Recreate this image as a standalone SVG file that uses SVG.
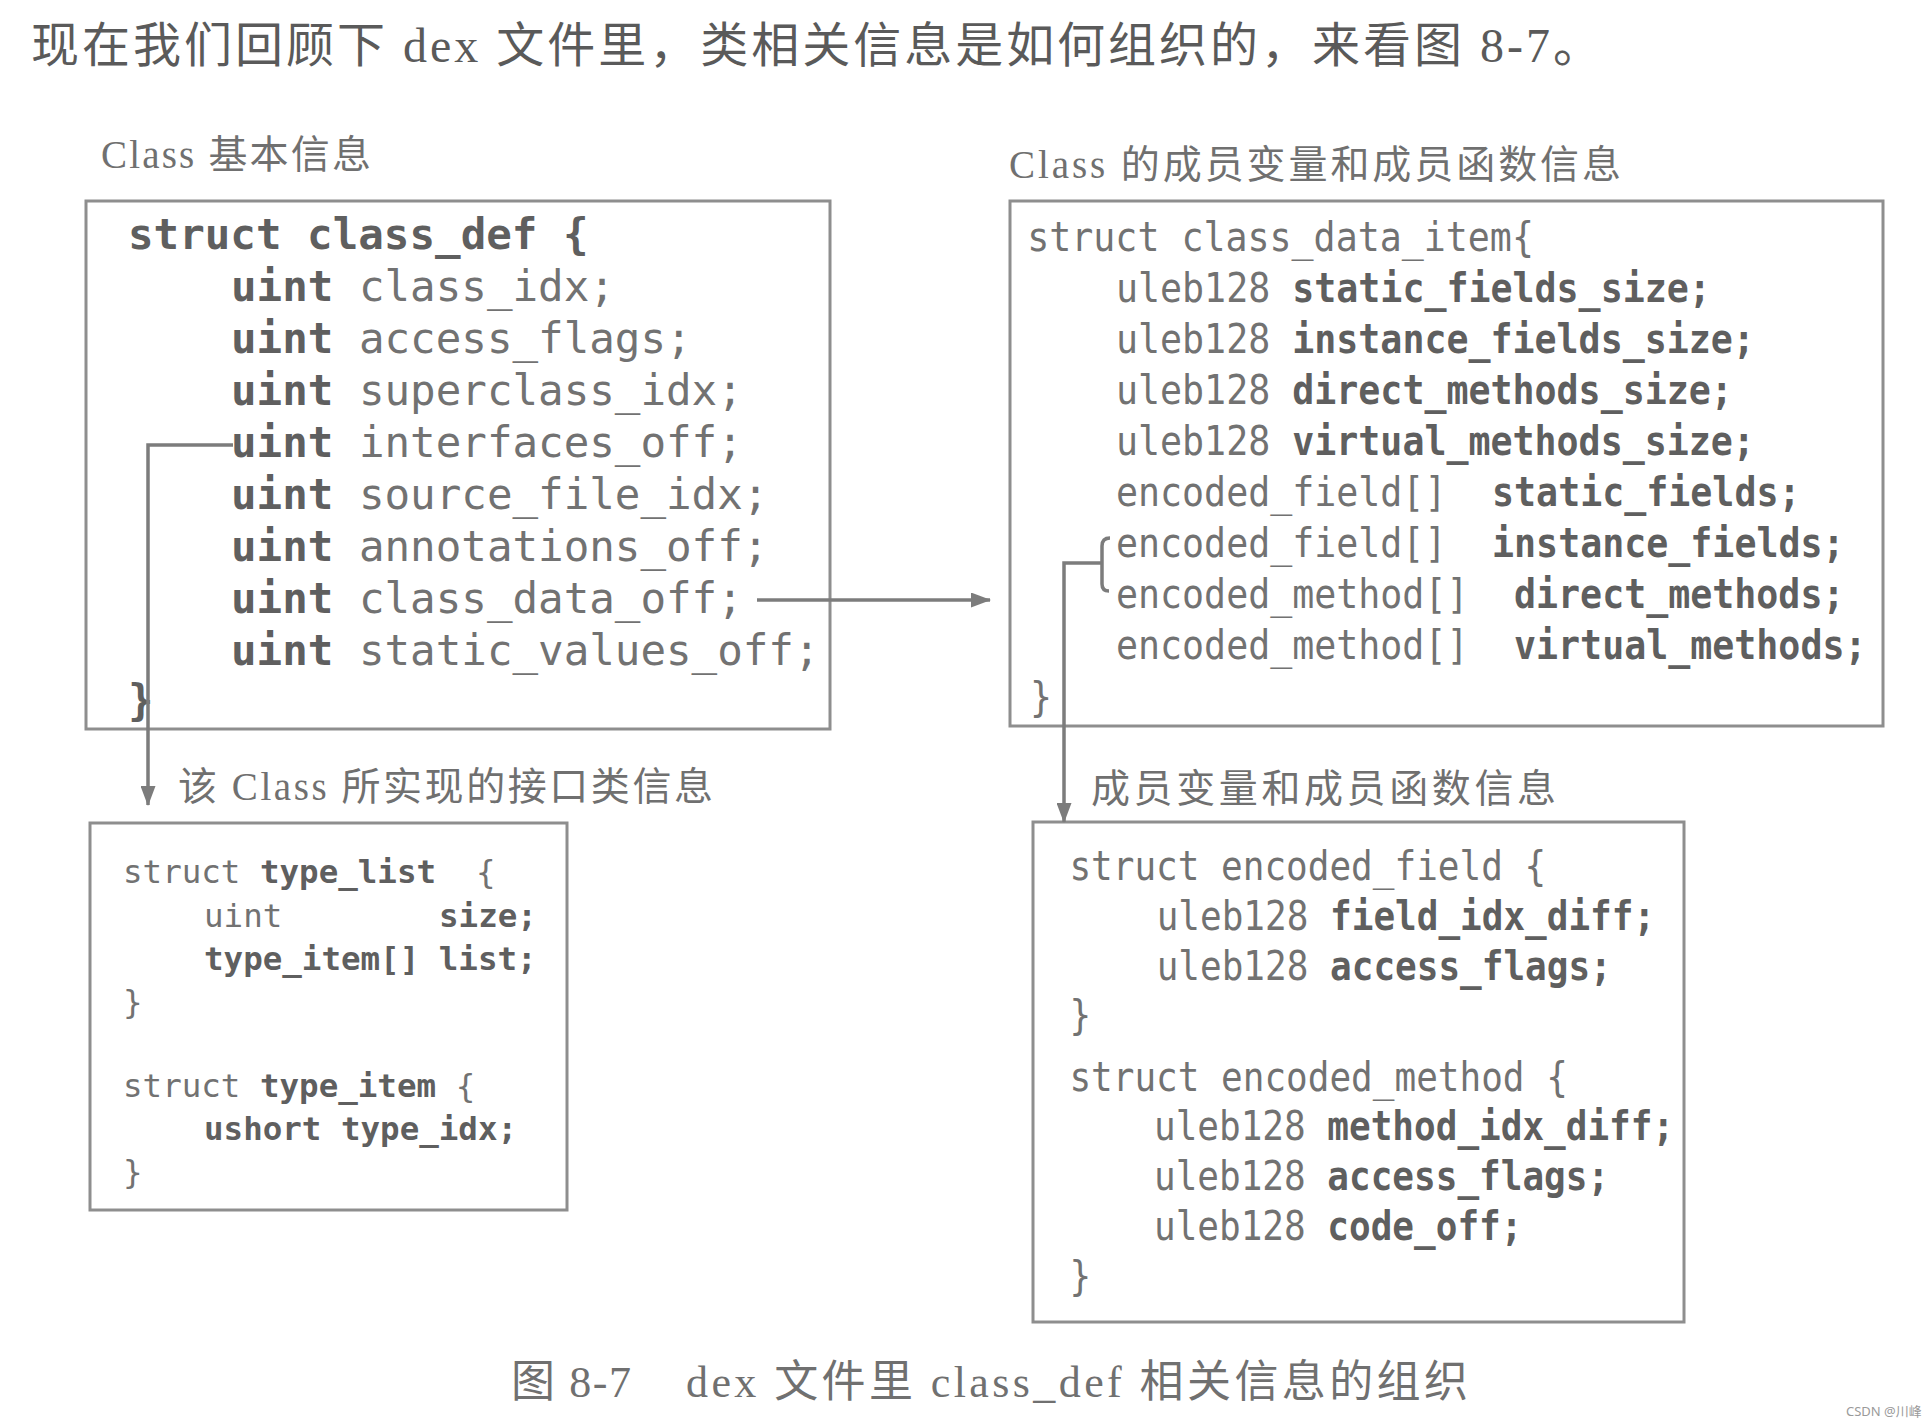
<svg xmlns="http://www.w3.org/2000/svg" width="1929" height="1427" viewBox="0 0 1929 1427">
<defs>
<style>
.box{fill:none;stroke:#8e8e8e;stroke-width:3}
.code{font-family:"DejaVu Sans Mono","Liberation Mono",monospace;fill:#727272}
.b{font-weight:bold;fill:#5f5f5f}
.lbl{font-family:"Liberation Serif","Noto Sans CJK SC",serif;fill:#707070}
.conn{fill:none;stroke:#7c7c7c;stroke-width:3.5}
.c1{font-size:42.5px}
.c2{font-size:40px}
.c3{font-size:32.5px}
.c4{font-size:40px}
</style>
<marker id="arr" markerUnits="userSpaceOnUse" markerWidth="20" markerHeight="15" refX="19" refY="7.5" orient="auto">
<path d="M0,0 L20,7.5 L0,15 Z" fill="#7c7c7c"/>
</marker>
</defs>
<rect width="1929" height="1427" fill="#ffffff"/>

<text class="lbl" x="31" y="62" font-size="48" textLength="1570" lengthAdjust="spacing" style="fill:#5a5a5a">现在我们回顾下 dex 文件里，类相关信息是如何组织的，来看图 8-7。</text>

<g id="class_def">
<text class="lbl" x="101" y="168" font-size="39" textLength="270" lengthAdjust="spacing">Class 基本信息</text>
<rect class="box" x="86" y="201" width="744" height="528"/>
<g class="code c1">
<text x="128" y="249" class="b">struct class_def {</text>
<text x="231" y="301"><tspan class="b">uint</tspan> class_idx;</text>
<text x="231" y="353"><tspan class="b">uint</tspan> access_flags;</text>
<text x="231" y="405"><tspan class="b">uint</tspan> superclass_idx;</text>
<text x="231" y="457"><tspan class="b">uint</tspan> interfaces_off;</text>
<text x="231" y="509"><tspan class="b">uint</tspan> source_file_idx;</text>
<text x="231" y="561"><tspan class="b">uint</tspan> annotations_off;</text>
<text x="231" y="613"><tspan class="b">uint</tspan> class_data_off;</text>
<text x="231" y="665"><tspan class="b">uint</tspan> static_values_off;</text>
<text x="128" y="715" class="b">}</text>
</g>
</g>

<g id="class_data_item">
<text class="lbl" x="1009" y="178" font-size="39" textLength="612" lengthAdjust="spacing">Class 的成员变量和成员函数信息</text>
<rect class="box" x="1010" y="201" width="873" height="525"/>
<g class="code c2" transform="translate(1116,0) scale(0.915,1) translate(-1116,0)">
<text x="1019" y="251">struct class_data_item{</text>
<text x="1116" y="302">uleb128 <tspan class="b">static_fields_size;</tspan></text>
<text x="1116" y="353">uleb128 <tspan class="b">instance_fields_size;</tspan></text>
<text x="1116" y="404">uleb128 <tspan class="b">direct_methods_size;</tspan></text>
<text x="1116" y="455">uleb128 <tspan class="b">virtual_methods_size;</tspan></text>
<text x="1116" y="506">encoded_field[]<tspan x="1527" class="b">static_fields;</tspan></text>
<text x="1116" y="557">encoded_field[]<tspan x="1527" class="b">instance_fields;</tspan></text>
<text x="1116" y="608">encoded_method[]<tspan x="1551" class="b">direct_methods;</tspan></text>
<text x="1116" y="659">encoded_method[]<tspan x="1551" class="b">virtual_methods;</tspan></text>
<text x="1022" y="711">}</text>
</g>
</g>

<g id="type_list">
<text class="lbl" x="178" y="800" font-size="39" textLength="535" lengthAdjust="spacing">该 Class 所实现的接口类信息</text>
<rect class="box" x="90" y="823" width="477" height="387"/>
<g class="code c3">
<text x="123" y="883">struct <tspan class="b">type_list</tspan><tspan x="476">{</tspan></text>
<text x="204" y="927">uint<tspan x="439" class="b">size;</tspan></text>
<text x="204" y="970" class="b">type_item[] list;</text>
<text x="123" y="1013">}</text>
<text x="123" y="1097">struct <tspan class="b">type_item</tspan> {</text>
<text x="204" y="1140" class="b">ushort type_idx;</text>
<text x="123" y="1183">}</text>
</g>
</g>

<g id="encoded_field">
<text class="lbl" x="1091" y="802" font-size="39" textLength="465" lengthAdjust="spacing">成员变量和成员函数信息</text>
<rect class="box" x="1033" y="822" width="651" height="500"/>
<g class="code c4" transform="translate(1154,0) scale(0.9,1) translate(-1154,0)">
<text x="1060" y="880">struct encoded_field {</text>
<text x="1157" y="930">uleb128 <tspan class="b">field_idx_diff;</tspan></text>
<text x="1157" y="980">uleb128 <tspan class="b">access_flags;</tspan></text>
<text x="1060" y="1029">}</text>
<text x="1060" y="1091">struct encoded_method {</text>
<text x="1154" y="1140">uleb128 <tspan class="b">method_idx_diff;</tspan></text>
<text x="1154" y="1190">uleb128 <tspan class="b">access_flags;</tspan></text>
<text x="1154" y="1240">uleb128 <tspan class="b">code_off;</tspan></text>
<text x="1060" y="1290">}</text>
</g>
</g>

<g id="connectors">
<path class="conn" d="M233,445 H148 V805" marker-end="url(#arr)"/>
<path class="conn" d="M757,600 H990" marker-end="url(#arr)"/>
<path class="conn" d="M1110,538 Q1102,538 1102,546 V584 Q1102,591 1109,591"/>
<path class="conn" d="M1102,563 H1064 V822" marker-end="url(#arr)"/>
</g>

<g id="caption">
<text class="lbl" x="511" y="1397" font-size="44" textLength="120" lengthAdjust="spacing">图 8-7</text>
<text class="lbl" x="686" y="1397" font-size="44" textLength="782" lengthAdjust="spacing">dex 文件里 class_def 相关信息的组织</text>
</g>
<text x="1846" y="1416" font-family="Noto Sans, Noto Sans CJK SC, sans-serif" font-size="13" fill="#9a9a9a">CSDN @川峰</text>
</svg>
